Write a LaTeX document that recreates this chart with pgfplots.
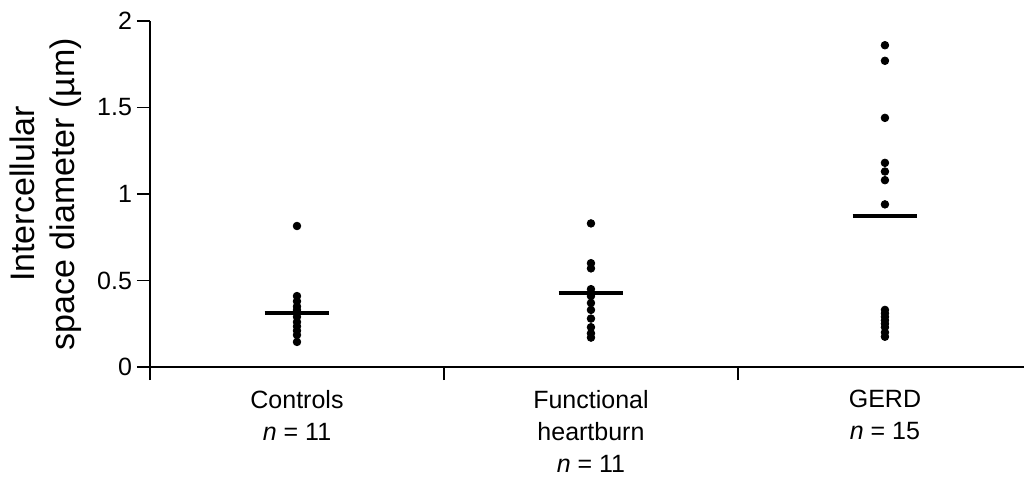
\documentclass[border=0pt]{standalone}
\usepackage{fontspec}
\setmainfont{Liberation Sans}
\usepackage{pgfplots}
\pgfplotsset{compat=1.18}
\begin{document}
\begin{tikzpicture}
\path[use as bounding box] (-75pt,-55pt) rectangle (437pt,183.5pt);
\begin{axis}[
  at={(0pt,0pt)}, anchor=south west,
  scale only axis, width=437pt, height=173pt,
  xmin=0, xmax=2.973, ymin=0, ymax=2,
  axis x line*=bottom, axis y line*=left,
  axis line style={line width=0.8pt, -},
  tick style={line width=0.8pt, black},
  tick align=outside, major tick length=6.5pt,
  xtick={0,1,2}, xticklabels={},
  extra x ticks={0.5,1.5,2.5},
  extra x tick labels={Controls\\\textit{n} = 11, Functional\\heartburn\\\textit{n} = 11, GERD\\\textit{n} = 15},
  extra x tick style={major tick length=0pt, tick label style={align=center, anchor=north, yshift=-8pt, font=\fontsize{12.5}{16}\selectfont}},
  ytick={0,0.5,1,1.5,2},
  yticklabels={0,0.5,1,1.5,2},
  yticklabel style={font=\fontsize{12.5}{14}\selectfont, xshift=1pt},
  /pgf/number format/assume math mode=true,
  ylabel={Intercellular\\space diameter (µm)},
  ylabel style={at={(axis description cs:-0.119,0.5)}, anchor=center, align=center, font=\fontsize{17}{20}\selectfont},
  clip=false,
]
\addplot[only marks, mark=*, mark size=1.9pt, black] coordinates {
 (0.5,0.815) (0.5,0.41) (0.5,0.38) (0.5,0.35) (0.5,0.33) (0.5,0.29)
 (0.5,0.26) (0.5,0.235) (0.5,0.21) (0.5,0.185) (0.5,0.145)
};
\addplot[only marks, mark=*, mark size=1.9pt, black] coordinates {
 (1.5,0.83) (1.5,0.60) (1.5,0.57) (1.5,0.45) (1.5,0.41) (1.5,0.37)
 (1.5,0.33) (1.5,0.28) (1.5,0.23) (1.5,0.195) (1.5,0.17)
};
\addplot[only marks, mark=*, mark size=1.9pt, black] coordinates {
 (2.5,1.86) (2.5,1.77) (2.5,1.44) (2.5,1.18) (2.5,1.13) (2.5,1.08)
 (2.5,0.94) (2.5,0.33) (2.5,0.31) (2.5,0.29) (2.5,0.27) (2.5,0.25)
 (2.5,0.23) (2.5,0.20) (2.5,0.175)
};
\addplot[black, line width=2pt] coordinates {(0.39,0.31) (0.61,0.31)};
\addplot[black, line width=2pt] coordinates {(1.39,0.425) (1.61,0.425)};
\addplot[black, line width=2pt] coordinates {(2.39,0.87) (2.61,0.87)};
\end{axis}
\end{tikzpicture}
\end{document}
